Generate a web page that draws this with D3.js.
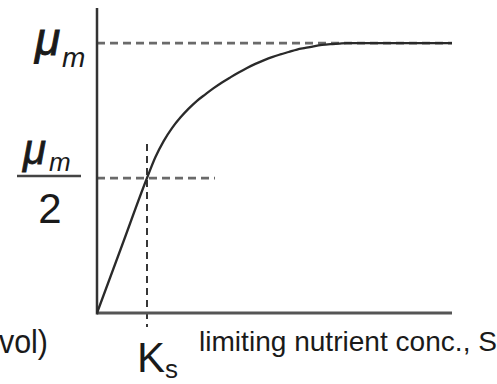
<!DOCTYPE html>
<html><head><meta charset="utf-8">
<script src="https://cdn.jsdelivr.net/npm/d3@7"></script>
<style>
html,body{margin:0;padding:0;background:#fff;}
svg{display:block;}
text{font-family:"Liberation Sans",Arial,sans-serif;fill:#1a1a1a;}
</style></head>
<body>
<script>
// substrate concentration S (in units of Ks) and growth rate mu (in units of mu_m)
const sValues  = [0, 0.5, 1.0, 1.167, 1.333, 1.5, 1.667, 1.833, 2.0, 2.167, 2.333, 2.5, 2.667, 2.833, 3.0,
                  3.167, 3.333, 3.5, 3.667, 3.833, 4.0, 4.167, 4.333, 4.5, 4.667, 4.833, 5.0, 5.167, 7.1];
const muValues = [0, 0.25, 0.5, 0.577, 0.637, 0.685, 0.724, 0.757, 0.786, 0.810, 0.833, 0.854, 0.873, 0.891, 0.908,
                  0.923, 0.936, 0.948, 0.958, 0.967, 0.976, 0.982, 0.988, 0.993, 0.996, 0.998, 1.0, 1.0, 1.0];
const Ks = 1.0;
const muMax = 1.0;
const xLabel = "limiting nutrient conc., S";
const yLabelTail = "vol)";

const W = 497, H = 384;
const svg = d3.select("body").append("svg").attr("width", W).attr("height", H);

const x = d3.scaleLinear().domain([0, 7.1]).range([97, 452]);
const y = d3.scaleLinear().domain([0, 1.13]).range([313, 8]);

// dashed guide at mu_m
svg.append("line")
  .attr("x1", x(0)).attr("x2", x(7.1)).attr("y1", y(muMax)).attr("y2", y(muMax))
  .attr("stroke", "#6a6a6a").attr("stroke-width", 2.8).attr("stroke-dasharray", "8,5");
// dashed guide at mu_m/2
svg.append("line")
  .attr("x1", x(0)).attr("x2", x(2.36)).attr("y1", y(muMax / 2)).attr("y2", y(muMax / 2))
  .attr("stroke", "#6a6a6a").attr("stroke-width", 2.8).attr("stroke-dasharray", "8,5");
// vertical dashed line at Ks
svg.append("line")
  .attr("x1", x(Ks)).attr("x2", x(Ks)).attr("y1", y(0.626)).attr("y2", y(-0.052))
  .attr("stroke", "#222").attr("stroke-width", 1.8).attr("stroke-dasharray", "7,5");

// axes
svg.append("line")
  .attr("x1", x(0)).attr("x2", x(7.1)).attr("y1", y(0)).attr("y2", y(0))
  .attr("stroke", "#555").attr("stroke-width", 3);
svg.append("line")
  .attr("x1", x(0)).attr("x2", x(0)).attr("y1", y(0) + 1.5).attr("y2", y(1.13))
  .attr("stroke", "#333").attr("stroke-width", 2.5);

// curve
const pts = sValues.map((s, i) => [s, muValues[i]]);
svg.append("path")
  .datum(pts)
  .attr("d", d3.line().x(d => x(d[0])).y(d => y(d[1])).curve(d3.curveMonotoneX))
  .attr("fill", "none").attr("stroke", "#2a2a2a").attr("stroke-width", 2.3);

// mu_m label
const t1 = svg.append("text").attr("x", 35).attr("y", 55).style("font-style", "italic");
t1.append("tspan").attr("font-size", 46).attr("stroke", "#1a1a1a").attr("stroke-width", 0.9).text("\u03bc");
t1.append("tspan").attr("x", 62).attr("y", 67).attr("font-size", 28).text("m");

// mu_m / 2 label
const t2 = svg.append("text").attr("x", 23).attr("y", 164).style("font-style", "italic");
t2.append("tspan").attr("font-size", 42).attr("stroke", "#1a1a1a").attr("stroke-width", 0.8).text("\u03bc");
t2.append("tspan").attr("x", 49).attr("y", 171).attr("font-size", 26).text("m");
svg.append("line").attr("x1", 17).attr("x2", 81).attr("y1", 176).attr("y2", 176)
  .attr("stroke", "#444").attr("stroke-width", 2.5);
svg.append("text").attr("x", 50).attr("y", 223).attr("text-anchor", "middle")
  .attr("font-size", 42).text("2");

// Ks label
svg.append("text").attr("x", 137).attr("y", 372).attr("font-size", 42).text("K");
svg.append("text").attr("x", 165).attr("y", 378).attr("font-size", 26).text("s");

// axis labels
svg.append("text").attr("x", 199).attr("y", 351).attr("font-size", 28)
  .attr("textLength", 298).attr("lengthAdjust", "spacingAndGlyphs").text(xLabel);
svg.append("text").attr("x", -1).attr("y", 353).attr("font-size", 34)
  .attr("textLength", 49).attr("lengthAdjust", "spacingAndGlyphs").text(yLabelTail);
</script>
</body></html>
